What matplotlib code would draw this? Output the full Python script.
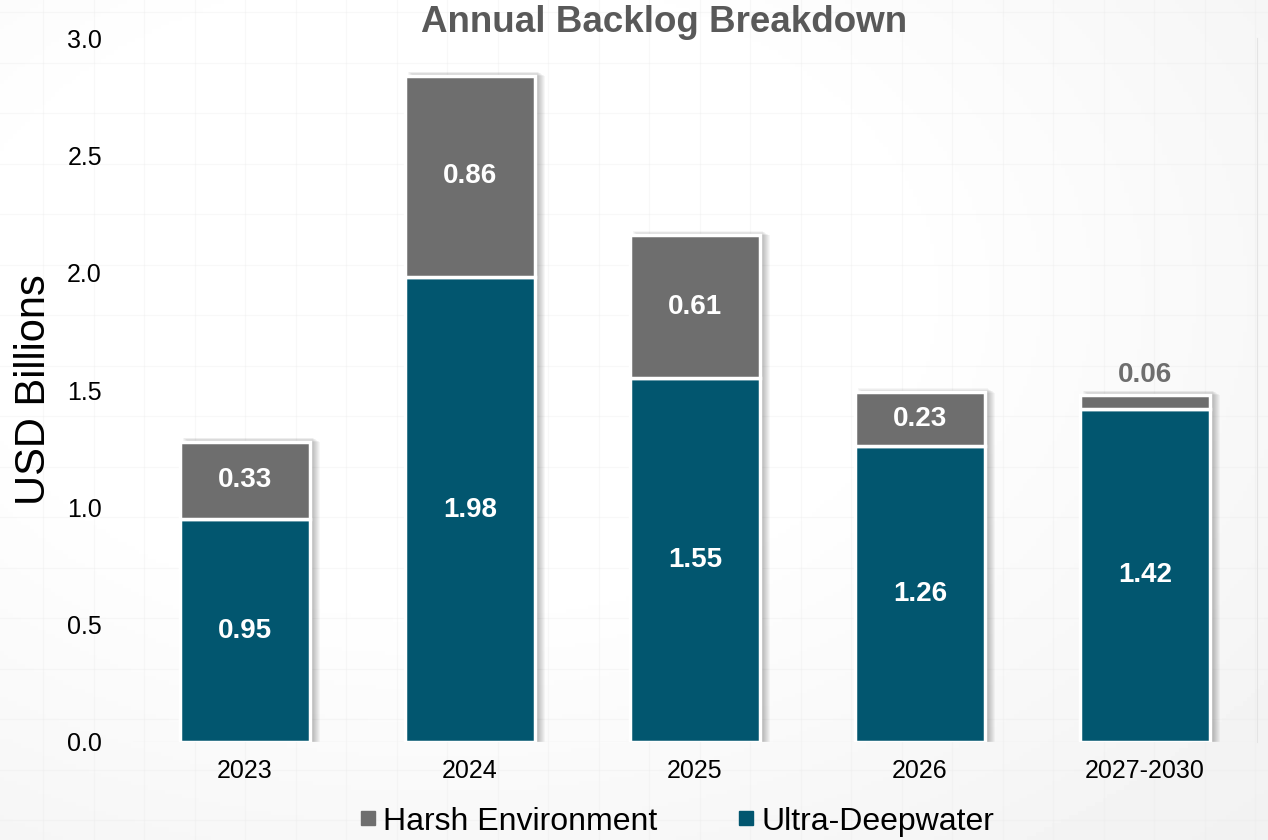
import numpy as np
import matplotlib.pyplot as plt
from matplotlib.lines import Line2D

categories = ["2023", "2024", "2025", "2026", "2027-2030"]
ultra_deepwater = [0.95, 1.98, 1.55, 1.26, 1.42]
harsh_environment = [0.33, 0.86, 0.61, 0.23, 0.06]
y_ticks = [0.0, 0.5, 1.0, 1.5, 2.0, 2.5, 3.0]

TEAL = "#02566f"
GRAY = "#6e6e6e"

plt.rcParams['font.family'] = ['Liberation Sans', 'DejaVu Sans']

fig = plt.figure(figsize=(12.68, 8.4), dpi=100)

# background: soft gradient + faint tile grid
bg = fig.add_axes([0, 0, 1, 1], zorder=-10)
yy, xx = np.mgrid[0:1:200j, 0:1:300j]
shade = 1.0 - 0.06 * np.clip(np.hypot(xx - 0.35, yy - 0.35) - 0.35, 0, None) * 1.6
bg.imshow(shade, cmap="gray", vmin=0, vmax=1, extent=[0, 1268, 0, 840],
          origin="upper", aspect="auto")
for gx in np.arange(43, 1268, 50.5):
    bg.axvline(gx, color="#ebebeb", lw=0.8, alpha=0.35)
for gy in np.arange(20, 840, 50.5):
    bg.axhline(gy, color="#ebebeb", lw=0.8, alpha=0.35)
bg.set_xlim(0, 1268)
bg.set_ylim(0, 840)
bg.axis("off")

ax = fig.add_axes([0.1045, 0.1167, 0.8872, 0.838])
ax.set_facecolor("none")
x = np.arange(len(categories))
width = 0.575
totals = [u + h for u, h in zip(ultra_deepwater, harsh_environment)]

# blurred drop shadow
px = 1 / 225.0
for k in range(8):
    ax.bar(x + (3 + k) * px, [t + (4 - k * 0.6) * 0.0043 for t in totals],
           width=width, color="black", alpha=0.035, lw=0, zorder=1)

ax.bar(x, ultra_deepwater, width=width, color=TEAL, edgecolor="white",
       linewidth=2.5, zorder=3)
ax.bar(x, harsh_environment, width=width, bottom=ultra_deepwater, color=GRAY,
       edgecolor="white", linewidth=2.5, zorder=3)

for i in range(len(categories)):
    ax.text(x[i], ultra_deepwater[i] / 2, f"{ultra_deepwater[i]:.2f}",
            ha="center", va="center", color="white", fontsize=20,
            fontweight="bold", zorder=5)
    if harsh_environment[i] >= 0.15:
        ax.text(x[i], ultra_deepwater[i] + harsh_environment[i] / 2,
                f"{harsh_environment[i]:.2f}", ha="center", va="center",
                color="white", fontsize=20, fontweight="bold", zorder=5)
    else:
        ax.text(x[i], totals[i] + 0.03, f"{harsh_environment[i]:.2f}",
                ha="center", va="bottom", color=GRAY, fontsize=20,
                fontweight="bold", zorder=5)

ax.set_xlim(-0.5, len(categories) - 0.5)
ax.set_ylim(0, 3.0)
ax.set_yticks(y_ticks)
ax.set_yticklabels([f"{v:.1f}" for v in y_ticks], fontsize=18)
ax.set_xticks(x)
ax.set_xticklabels(categories, fontsize=18)
ax.tick_params(length=0, pad=12)
ax.tick_params(axis="y", pad=22)
for s in ["top", "left", "bottom"]:
    ax.spines[s].set_visible(False)
ax.spines["right"].set_color("#e4e4e4")
ax.axhline(0, color="#f0f0f0", lw=1, zorder=2)

ax.set_ylabel("USD Billions", fontsize=30)
ax.yaxis.set_label_coords(-0.07, 0.5)

fig.text(0.524, 0.973, "Annual Backlog Breakdown", ha="center", va="center",
         fontsize=26.5, fontweight="bold", color="#595959")

handles = [Line2D([], [], marker="s", ls="none", markersize=10, color=GRAY),
           Line2D([], [], marker="s", ls="none", markersize=10, color=TEAL)]
fig.legend(handles, ["Harsh Environment", "Ultra-Deepwater"], loc="center",
           bbox_to_anchor=(0.532, 0.022), ncol=2, frameon=False, fontsize=23,
           handletextpad=0.1, columnspacing=2.35, handlelength=0.8)

fig.savefig("out.png", dpi=100)
